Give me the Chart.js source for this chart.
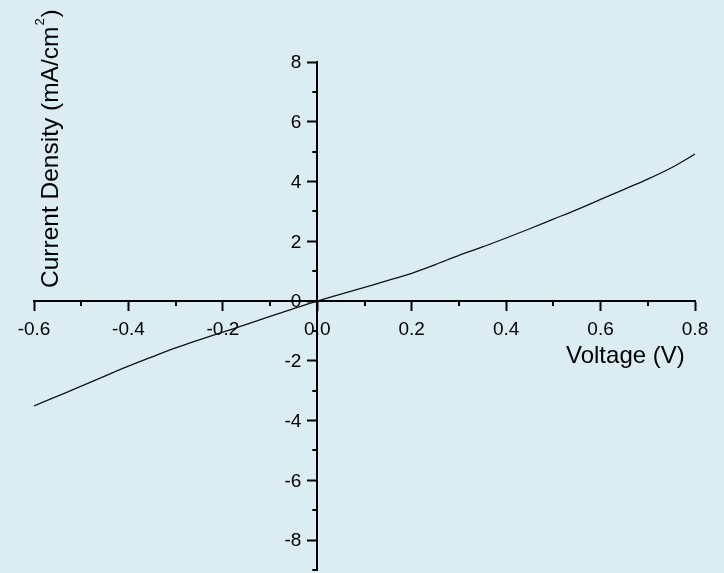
<!DOCTYPE html>
<html>
<head>
<meta charset="utf-8">
<script src="https://cdn.jsdelivr.net/npm/chart.js@4.4.0/dist/chart.umd.min.js"></script>
<style>
  html, body { margin: 0; padding: 0; background: #dbedf3; }
  #wrap { width: 724px; height: 573px; }
</style>
</head>
<body>
<div id="wrap"><canvas id="ivChart" width="724" height="573"></canvas></div>
<script>
// 电压 (V) 与电流密度 (mA/cm2)
const voltage = [-0.60, -0.55, -0.50, -0.45, -0.40, -0.35, -0.30, -0.25, -0.20, -0.15,
                 -0.10, -0.05, 0.00, 0.05, 0.10, 0.15, 0.20, 0.25, 0.30, 0.35,
                 0.40, 0.45, 0.50, 0.55, 0.60, 0.65, 0.70, 0.75, 0.80];
const currentDensity = [-3.51, -3.18, -2.85, -2.51, -2.18, -1.87, -1.57, -1.30, -1.04, -0.78,
                        -0.51, -0.25, 0.00, 0.23, 0.46, 0.69, 0.93, 1.22, 1.53, 1.81,
                        2.11, 2.42, 2.74, 3.06, 3.40, 3.74, 4.08, 4.46, 4.92];

// 刻度
const xMinorTicks = [-0.5, -0.3, -0.1, 0.1, 0.3, 0.5, 0.7];
const yMinorTicks = [-9, -7, -5, -3, -1, 1, 3, 5, 7];
const xTitle = 'Voltage (V)';
const yTitle = ['Current Density (mA/cm', '2', ')'];

const FONT = "'Liberation Sans', Arial, sans-serif";

// 背景填充
const bgPlugin = {
    id: 'bg',
    beforeDraw(chart) {
        const ctx = chart.ctx;
        ctx.save();
        ctx.fillStyle = '#dbedf3';
        ctx.fillRect(0, 0, chart.width, chart.height);
        ctx.restore();
    }
};

// 次刻度、纵轴刻度文字、坐标轴标题
const extrasPlugin = {
    id: 'extras',
    afterDraw(chart) {
        const ctx = chart.ctx;
        const xs = chart.scales.x, ys = chart.scales.y;
        const x0 = xs.getPixelForValue(0);
        const y0 = ys.getPixelForValue(0);
        ctx.save();
        ctx.strokeStyle = '#000';
        ctx.lineWidth = 2;
        ctx.beginPath();
        xMinorTicks.forEach(v => {
            const px = Math.round(xs.getPixelForValue(v));
            ctx.moveTo(px, y0);
            ctx.lineTo(px, y0 + 5);
        });
        yMinorTicks.forEach(v => {
            const py = Math.round(ys.getPixelForValue(v));
            ctx.moveTo(x0, py);
            ctx.lineTo(x0 - 5, py);
        });
        ctx.stroke();

        // 纵轴刻度文字放在轴线左侧
        ctx.fillStyle = '#000';
        ctx.font = '19px ' + FONT;
        ctx.textAlign = 'right';
        ctx.textBaseline = 'middle';
        ys.ticks.forEach(t => {
            ctx.fillText(String(Math.round(t.value)), x0 - 16, ys.getPixelForValue(t.value) + 1);
        });

        ctx.textBaseline = 'alphabetic';
        ctx.textAlign = 'left';
        ctx.font = '24px ' + FONT;
        ctx.fillText(xTitle, 566, 363);

        // 纵轴标题（带上标）
        ctx.translate(58, 288);
        ctx.rotate(-Math.PI / 2);
        ctx.font = '24.5px ' + FONT;
        ctx.fillText(yTitle[0], 0, 0);
        let w = ctx.measureText(yTitle[0]).width;
        ctx.font = '13px ' + FONT;
        ctx.fillText(yTitle[1], w + 1, -14);
        w += ctx.measureText(yTitle[1]).width + 2;
        ctx.font = '24.5px ' + FONT;
        ctx.fillText(yTitle[2], w, 0);
        ctx.restore();
    }
};

const points = voltage.map((v, i) => ({ x: v, y: currentDensity[i] }));

new Chart(document.getElementById('ivChart'), {
    type: 'line',
    data: {
        datasets: [{
            data: points,
            borderColor: '#111',
            borderWidth: 1.3,
            pointRadius: 0,
            tension: 0.3,
            cubicInterpolationMode: 'monotone',
            fill: false
        }]
    },
    options: {
        responsive: false,
        animation: false,
        layout: { padding: { left: 34, right: 29, top: 62, bottom: 3 } },
        plugins: { legend: { display: false }, tooltip: { enabled: false } },
        scales: {
            x: {
                type: 'linear',
                position: { y: 0 },
                min: -0.6,
                max: 0.8,
                border: { color: '#000', width: 2 },
                grid: { drawOnChartArea: false, tickLength: 9, tickColor: '#000', tickWidth: 2 },
                ticks: {
                    stepSize: 0.2,
                    color: '#000',
                    padding: 8,
                    maxRotation: 0,
                    font: { family: FONT, size: 19 },
                    callback: v => v.toFixed(1)
                },
                afterFit: s => { s.paddingLeft = 0; s.paddingRight = 0; }
            },
            y: {
                type: 'linear',
                position: { x: 0 },
                min: -9,
                max: 8,
                border: { color: '#000', width: 2 },
                grid: { drawOnChartArea: false, tickLength: 9, tickColor: '#000', tickWidth: 2 },
                ticks: {
                    stepSize: 2,
                    includeBounds: false,
                    display: false
                },
                afterFit: s => { s.paddingTop = 0; s.paddingBottom = 0; }
            }
        }
    },
    plugins: [bgPlugin, extrasPlugin]
});
</script>
</body>
</html>
